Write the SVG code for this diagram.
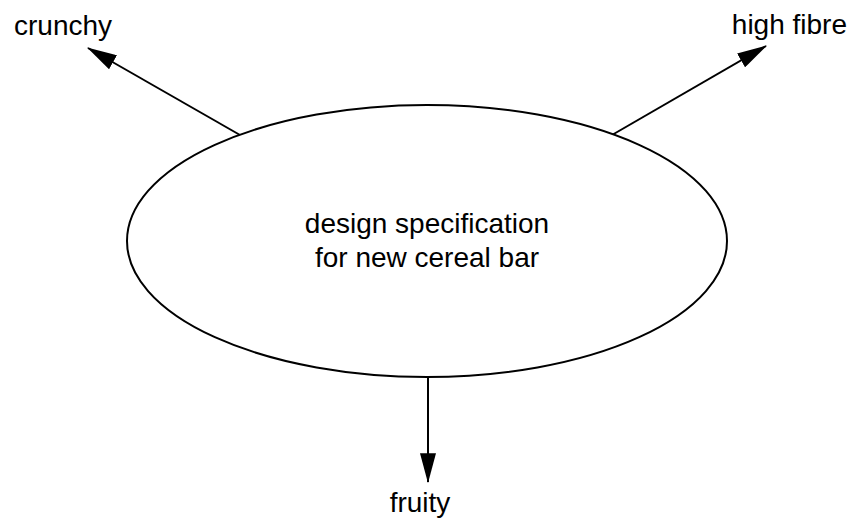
<svg xmlns="http://www.w3.org/2000/svg" width="851" height="523" viewBox="0 0 851 523">
  <style>
    .lbl { font-family: "Liberation Sans", Arial, Helvetica, sans-serif; font-size: 28px; fill: #000; }
    .edge { stroke: #000; stroke-width: 2; fill: none; }
    .node { stroke: #000; stroke-width: 2; fill: #fff; }
  </style>
  <defs>
    <marker id="arrow" markerUnits="userSpaceOnUse" markerWidth="30" markerHeight="16" viewBox="0 0 28 15" refX="27" refY="7.5" orient="auto">
      <path d="M0,0 L28,7.5 L0,15 z" fill="#000"/>
    </marker>
  </defs>
  <rect width="851" height="523" fill="#fff"/>
  <g id="connectors">
    <line class="edge" x1="240" y1="135" x2="88" y2="48" marker-end="url(#arrow)"/>
    <line class="edge" x1="612" y1="135" x2="766" y2="46" marker-end="url(#arrow)"/>
    <line class="edge" x1="428" y1="377" x2="428" y2="482" marker-end="url(#arrow)"/>
  </g>
  <g id="center">
    <ellipse class="node" cx="427" cy="241" rx="300" ry="136"/>
    <text class="lbl" x="427" y="233" text-anchor="middle">design specification</text>
    <text class="lbl" x="427" y="267" text-anchor="middle">for new cereal bar</text>
  </g>
  <g id="crunchy">
    <text class="lbl" x="14" y="35">crunchy</text>
  </g>
  <g id="highfibre">
    <text class="lbl" x="847" y="34" text-anchor="end">high fibre</text>
  </g>
  <g id="fruity">
    <text class="lbl" x="420" y="512" text-anchor="middle">fruity</text>
  </g>
</svg>
